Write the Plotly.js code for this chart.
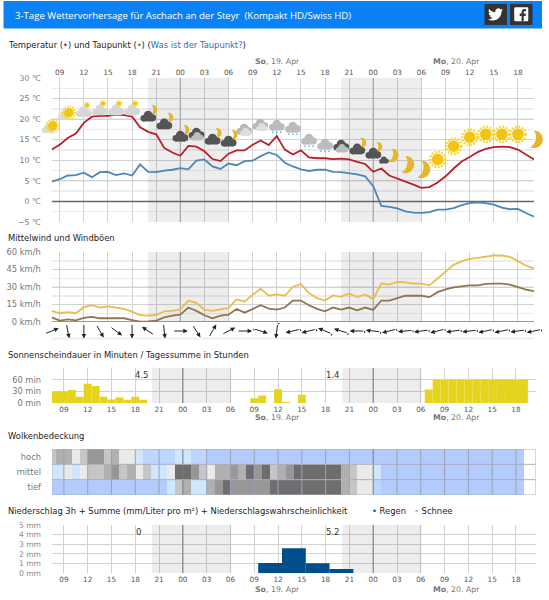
<!DOCTYPE html>
<html><head><meta charset="utf-8">
<script src="https://cdn.plot.ly/plotly-3.0.1.min.js"></script>
<style>html,body{margin:0;padding:0;background:#fff}#c{width:549px;height:600px}</style>
</head><body><div id="c"></div>
<script>
// ---- data: t = hours relative to Sunday 19 Apr 00:00 ----
const hoursT = [-16,-15,-14,-13,-12,-11,-10,-9,-8,-7,-6,-5,-4,-3,-2,-1,0,1,2,3,4,5,6,7,8,9,10,11,12,13,14,15,16,17,18,19,20,21,22,23,24,25,26,27,28,29,30,31,32,33,34,35,36,37,38,39,40,41,42,43,44];
const temperature = [12.6,13.8,15.4,16.5,19.1,20.6,20.8,20.8,21.1,21.0,20.6,18,16.9,16.3,13,11.9,11.1,13.5,13.3,12.2,10.3,9.8,11.6,12.4,12.4,13.8,14.8,13.7,15.9,12.6,11.4,12.4,10.7,10.5,10.5,10.3,10.4,10.2,9.6,9.1,7.2,8.0,6.3,5.6,4.9,4.1,3.3,3.5,4.6,6.1,8,9.7,10.8,12,12.8,13.2,13.3,13.2,12.6,11.4,10.2];
const dewpoint = [4.8,5.4,6.3,6.4,7.0,5.9,7.1,7.2,6.4,6.8,6.3,9.0,7.2,7.1,7.5,7.7,8.1,7.8,9.9,10.2,8.5,7.9,9.2,8.8,9.8,9.9,11,11.9,11.3,9.4,8.5,7.8,7.4,7.7,7.7,7.2,7.1,6.9,6.6,6.1,3.7,-1.1,-1.3,-1.7,-2.4,-2.7,-2.8,-2.6,-2,-2,-1.6,-0.9,-0.4,-0.2,-0.4,-0.8,-1.5,-1.9,-1.8,-2.8,-3.7];
const gusts = [9.5,7.5,8.4,7.5,12.7,14.4,12.4,13.3,12.4,11.2,8.9,5.8,5.5,6,9.2,9.5,10.7,18.4,16.4,10.4,9.5,11,12.1,19.3,17.6,23.3,28.5,22.5,23.6,22.5,30,32.6,24.8,20.5,18.4,22.8,21.6,24.5,21.3,23.6,19.6,33.1,32,34.3,34,32.9,32.9,31.4,37.2,43.8,49,51.9,54.2,55,55.9,57,57,55.9,52.2,48.4,45.8];
const meanWind = [4,1.2,2.3,1.4,3.5,4.3,3.2,3.2,3.2,3.2,1.7,0.3,0.6,1.2,4,5.5,6.3,12.4,9.5,5.8,3.2,5.5,6.3,11.2,8,11,14.4,11.5,10.7,12.4,18.4,18.4,14.4,11.2,9.2,12.4,10.7,12.4,10,12.4,10.4,18.4,18.4,20.5,22.5,22.5,22.5,21.3,25.6,28,29.7,30.5,31.4,31.4,32.6,32.9,32.9,32,30,27.7,26.5];
const windDir = [68,169,180,150,126,180,304,174,90,148,30,63,90,107,187,256,256,293,287,270,276,256,264,262,256,262,263,258,258,262,258];
const sunMinutes = [30,30,34,17,50,44,17,10,15,9,17,9,0,0,0,0,0,0,0,0,0,0,0,0,0,13,20,0,36,3,0,22,0,0,0,0,0,0,0,0,0,0,0,0,0,0,0,35,60,60,60,60,60,60,60,60,60,60,60,60];
const sunT = hoursT.slice(0,60);
const precipT = [11,14,17,20];
const precipMm = [1.07,2.6,1.03,0.45];
const cloudRows = ['tief','mittel','hoch'];
const cloudEdges = [-16.5].concat(hoursT.slice(0,60));
const cloudHigh = [4,5,5,3,4,6,6,4,5,3,3,2,1,1,1,1,2,2,1,1,0,0,0,0,0,0,0,0,0,0,0,0,0,0,0,0,0,0,0,0,0,0,0,0,0,0,0,0,0,0,0,0,0,0,0,0,0,0,0,0];
const cloudMid = [2,2,3,2,3,4,4,5,6,4,5,3,4,2,2,3,7,7,6,4,3,5,5,6,5,7,6,7,4,5,6,7,7,7,7,7,7,5,4,3,3,2,0,0,0,0,0,0,0,0,0,0,0,0,0,0,0,0,0,0];
const cloudLow = [0,0,0,0,0,0,0,0,0,0,0,0,0,0,0,2,4,5,2,2,5,6,7,6,6,6,6,6,7,7,7,7,7,7,7,7,7,5,4,3,3,1,0,0,0,0,0,0,0,0,0,0,0,0,0,0,0,0,0,0];
const cloudPalette = ['#b3cbfd','#bcd6ff','#cfe6ff','#eaeaea','#c6c6c6','#b0b0b0','#979797','#6e6e6e'];
const iconKind = ['suncloud','suncloud','cloudsun','cloudsun','cloudsun','cloudsun','darkmoon','darkmoon','darkmoon','darkdouble','darkmoon','darkmoon','graydouble','graydouble','graysnow','graysnow','graysnow','graysnow','darkdouble','darkmoon','darkmoon','moonsmall','moon','moon','sun','sun','sun','sun','sun','sun','moon'];
const iconLevel = [18,21.2,22.3,22.7,22.7,22.7,21.2,19.3,16.3,16.3,15.6,15.1,17.3,18.5,18.5,18,15.1,13.9,13.4,13.2,12.2,10.5,9,7.8,10.2,13.4,15.6,16.3,16.3,16.3,15.1];
const tickT = [-15,-12,-9,-6,-3,0,3,6,9,12,15,18,21,24,27,30,33,36,39,42];
const tickLabels = ['09','12','15','18','21','00','03','06','09','12','15','18','21','00','03','06','09','12','15','18'];
const nights = [[-4,6],[20,30]];
const midnights = [0,24];
const tempTicks = [30,25,20,15,10,5,0,-5];
const tempLabels = ['30 ℃','25 ℃','20 ℃','15 ℃','10 ℃','5 ℃','0 ℃','−5 ℃'];
const windTicks = [60,45,30,15,0];
const sunTicks = [0,30,60,90];
const sunTickLabels = ['0 min','30 min','60 min',''];
const precipTicks = [0,1,2,3,4,5];
const dayLabels = ['<b>So</b>, 19. Apr','<b>Mo</b>, 20. Apr'];
const dayPx = [277,456];

// ---- helpers ----
const W=549,H=600, X=p=>p/W, Y=p=>1-p/H;
const FONT='"DejaVu Sans",sans-serif', GRID='#d2d2d2', LBL='#777';
const L1=[51.7,534], L2=[52,535.8], T1=[78,222], TEMP=[-5,30];
const iconSvg = b => 'data:image/svg+xml;utf8,'+encodeURIComponent('<svg xmlns="http://www.w3.org/2000/svg" viewBox="0 0 40 40">'+b+'</svg>');
const cloud=(c,dx=0,dy=0,s=1)=>`<g transform="translate(${dx} ${dy}) scale(${s})" fill="${c}"><circle cx="20" cy="16" r="9"/><circle cx="11" cy="22" r="6.5"/><circle cx="29" cy="21" r="7"/><rect x="10" y="21" width="20" height="7.5"/></g>`;
const sunG=(cx,cy,r)=>`<circle cx="${cx}" cy="${cy}" r="${r}" fill="#f2c414"/><circle cx="${cx}" cy="${cy}" r="${r*1.3}" fill="none" stroke="#f8d92a" stroke-width="${r*.5}" stroke-dasharray="${r*.3} ${r*.26}"/>`;
const moonG=(t)=>`<path transform="${t}" d="M15 3A17.5 17.5 0 1 1 15 37C25 29 25 11 15 3Z" fill="#e6b52c"/>`;
const snow='<g fill="#4f93c9"><circle cx="12" cy="34" r="1.5"/><circle cx="20" cy="34" r="1.5"/><circle cx="28" cy="34" r="1.5"/></g>';
const icons={
 sun:iconSvg(sunG(20,20,11.5)),
 moon:iconSvg(moonG('rotate(12 20 20) translate(1 0)')),
 moonsmall:iconSvg(moonG('rotate(12 20 20) translate(8 -3) scale(.8)')+cloud('#555',-4,12,.65)),
 suncloud:iconSvg(cloud('#dcdcdc',-4,8,.8)+sunG(22,17,9.5)),
 cloudsun:iconSvg(sunG(26,11,4.5)+cloud('#d6d6d6',0,6)),
 darkmoon:iconSvg(`<path transform="translate(18 0) scale(.55)" d="M15 3A17.5 17.5 0 1 1 15 37C25 29 25 11 15 3Z" fill="#e6b52c"/>`+cloud('#555',0,6)),
 darkdouble:iconSvg(cloud('#555',0,0)+cloud('#bdbdbd',6,10,.78)),
 graydouble:iconSvg(cloud('#b9b9b9',-1,0)+cloud('#dedede',7,10,.75)),
 graysnow:iconSvg(cloud('#bcbcbc',0,2)+snow)
};

const axBase={showline:false,zeroline:false,fixedrange:true};
function xAx(dom,range,extra){return Object.assign({},axBase,{domain:[X(dom[0]),X(dom[1])],range,tickmode:'array',tickvals:tickT,ticktext:tickLabels,showgrid:true,gridcolor:GRID,gridwidth:1,ticks:'',tickfont:{family:FONT,size:7.3,color:'#555'}},extra);}
function yAx(top,bot,range,vals,text,extra){return Object.assign({},axBase,{domain:[Y(bot),Y(top)],range,tickmode:'array',tickvals:vals,ticktext:text,showgrid:true,gridcolor:GRID,gridwidth:1,ticks:'',ticklabelstandoff:10,tickfont:{family:FONT,size:8.3,color:LBL}},extra);}

const panels=[
 {xr:'x',yr:'y',y:TEMP,dark:'#a8a8a8'},
 {xr:'x2',yr:'y2',y:[0,60],dark:'#a8a8a8'},
 {xr:'x3',yr:'y3',y:[0,90],dark:'#888',shift:0.1},
 {xr:'x5',yr:'y5',y:[0,5],dark:'#888',shift:0.1}
];
const layout={width:W,height:H,margin:{l:0,r:0,t:0,b:0,pad:0},paper_bgcolor:'#fff',plot_bgcolor:'rgba(0,0,0,0)',showlegend:false,font:{family:FONT},
 xaxis:xAx(L1,[-16,44],{side:'top',anchor:'y',ticklabelstandoff:1}),
 yaxis:yAx(T1[0],T1[1],panels[0].y,tempTicks,tempLabels,{anchor:'x',minor:{dtick:2.5,showgrid:true,gridcolor:'#ededed',gridwidth:1.5},tickfont:{family:FONT,size:7.8,color:LBL}}),
 xaxis2:xAx(L1,[-16,44],{anchor:'y2',showticklabels:false}),
 yaxis2:yAx(252,322,panels[1].y,windTicks,windTicks.map(v=>v+' km/h'),{anchor:'x2',minor:{dtick:7.5,showgrid:true,gridcolor:'#ededed',gridwidth:1.5}}),
 xaxis3:xAx(L2,[-16.5,44.5],{anchor:'y3'}),
 yaxis3:yAx(368,403.3,panels[2].y,sunTicks,sunTickLabels,{anchor:'x3'}),
 xaxis4:xAx(L2,[-16.5,44.5],{anchor:'y4',showticklabels:false,showgrid:false}),
 yaxis4:yAx(449,495,[-0.5,2.5],[0,1,2],cloudRows,{anchor:'x4',showgrid:false}),
 xaxis5:xAx(L2,[-16.5,44.5],{anchor:'y5'}),
 yaxis5:yAx(525,573.3,panels[3].y,precipTicks,precipTicks.map(v=>v+' mm'),{anchor:'x5',tickfont:{family:FONT,size:7.6,color:'#888'}}),
 shapes:[],annotations:[],images:[]
};
const S=layout.shapes,A=layout.annotations,I=layout.images;

// header
S.push({type:'rect',xref:'paper',yref:'paper',x0:X(3.5),x1:X(542),y0:Y(28.5),y1:Y(1),fillcolor:'#0a82f5',line:{width:0},layer:'below'});
S.push({type:'rect',xref:'paper',yref:'paper',x0:X(484.5),x1:X(507),y0:Y(25),y1:Y(4),fillcolor:'#333',line:{width:0},layer:'below'});
S.push({type:'rect',xref:'paper',yref:'paper',x0:X(510),x1:X(532.5),y0:Y(25),y1:Y(4),fillcolor:'#333',line:{width:0},layer:'below'});
I.push({source:iconSvg('<g transform="scale(1.667)" fill="#fff"><path d="M23.953 4.57a10 10 0 01-2.825.775 4.958 4.958 0 002.163-2.723c-.951.555-2.005.959-3.127 1.184a4.92 4.92 0 00-8.384 4.482C7.69 8.095 4.067 6.13 1.64 3.162a4.822 4.822 0 00-.666 2.475c0 1.71.87 3.213 2.188 4.096a4.904 4.904 0 01-2.228-.616v.06a4.923 4.923 0 003.946 4.827 4.996 4.996 0 01-2.212.085 4.936 4.936 0 004.604 3.417 9.867 9.867 0 01-6.102 2.105c-.39 0-.779-.023-1.17-.067a13.995 13.995 0 007.557 2.209c9.053 0 13.998-7.496 13.998-13.985 0-.21 0-.42-.015-.63A9.935 9.935 0 0024 4.59z"/></g>'),xref:'paper',yref:'paper',x:X(488),y:Y(7),sizex:X(15),sizey:15/H,xanchor:'left',yanchor:'top',layer:'above'});
I.push({source:iconSvg('<rect x="3" y="3" width="34" height="34" rx="3" fill="#fff"/><path d="M26 37V24h4.6l.8-5.6H26v-3c0-1.6.6-2.7 2.8-2.7h2.8V7.6C31 7.5 29.5 7.4 27.8 7.4c-4 0-7 2.5-7 7v4h-4.6V24h4.6v13z" fill="#333"/>'),xref:'paper',yref:'paper',x:X(513),y:Y(6),sizex:X(16.5),sizey:16.5/H,xanchor:'left',yanchor:'top',layer:'above'});
function txt(x,y,text,o={}){A.push(Object.assign({xref:'paper',yref:'paper',x:X(x),y:Y(y),text,showarrow:false,xanchor:'left',yanchor:'middle',borderpad:0,font:{family:FONT,size:9,color:'#333'}},o));}
txt(14,15,'3-Tage Wettervorhersage für Aschach an der Steyr&nbsp; (Kompakt HD/Swiss HD)',{font:{family:'"Open Sans",sans-serif',size:9.6,color:'#fff'}});
const titleFont={family:FONT,size:8.4,color:'#222'};
txt(7,44.5,'Temperatur (<span style="color:#b5202a">•</span>) und Taupunkt (<span style="color:#3f7fb5">•</span>) (<span style="color:#2a6fb5">Was ist der Taupunkt?</span>)',{font:titleFont});
txt(7,238,'Mittelwind und Windböen',{font:titleFont});
txt(7,355,'Sonnenscheindauer in Minuten / Tagessumme in Stunden',{font:titleFont});
txt(7,436,'Wolkenbedeckung',{font:titleFont});
txt(7,510.7,'Niederschlag 3h + Summe (mm/Liter pro m²) + Niederschlagswahrscheinlichkeit',{font:titleFont});
txt(371,510.7,'<span style="color:#004f8b">•</span> Regen',{font:titleFont});
txt(413,510.7,'<span style="color:#8fc0e6">•</span> Schnee',{font:titleFont});
// day labels
const dayFont={family:FONT,size:7.8,color:'#777'};
dayPx.forEach((px,i)=>{
 [61.7,417.7,589].forEach(y=>txt(px,y,dayLabels[i],{xanchor:'center',font:dayFont}));
});
// daily totals
const sunTotals=['4.5','1.4'], rainTotals=['0','5.2'], totalPx=[142,333];
sunTotals.forEach((s,i)=>txt(totalPx[i],375.3,s,{xanchor:'center',font:{family:FONT,size:8.5,color:'#333'}}));
rainTotals.forEach((s,i)=>txt(totalPx[i]-(i?0:3.5),531.7,s,{xanchor:'center',font:{family:FONT,size:8.5,color:'#333'}}));
// night bands and midnight lines for the four time panels
panels.forEach(p=>{
 const sh=p.shift||0;
 nights.forEach(n=>S.push({type:'rect',xref:p.xr,yref:p.yr,x0:n[0]+sh,x1:n[1]+sh,y0:p.y[0],y1:p.y[1],fillcolor:'rgba(0,0,0,.07)',line:{width:0},layer:'between'}));
 midnights.forEach(m=>S.push({type:'line',xref:p.xr,yref:p.yr,x0:m,x1:m,y0:p.y[0],y1:p.y[1],line:{color:p.dark,width:1.2},layer:'between'}));
});
// baselines
S.push({type:'line',xref:'x',yref:'y',x0:-16,x1:44,y0:0,y1:0,line:{color:'#666',width:1.4},layer:'between'});
S.push({type:'line',xref:'x2',yref:'y2',x0:-16,x1:44,y0:0,y1:0,line:{color:'#777',width:1.4},layer:'between'});
S.push({type:'line',xref:'x2',yref:'paper',x0:-16,x1:44,y0:Y(338.5),y1:Y(338.5),line:{color:'#eee',width:2},layer:'below'});
// cloud grid on top of the cells
tickT.forEach(t=>S.push({type:'line',xref:'x4',yref:'y4',x0:t,x1:t,y0:-0.5,y1:2.5,line:{color:midnights.includes(t)?'#777':'#9aa3b5',width:1},layer:'above'}));
[-0.5,0.5,1.5,2.5].forEach(v=>S.push({type:'line',xref:'x4',yref:'y4',x0:-16.5,x1:44.5,y0:v,y1:v,line:{color:'#aab0bc',width:1},layer:'above'}));
[-16.5,44.5].forEach(t=>S.push({type:'line',xref:'x4',yref:'y4',x0:t,x1:t,y0:-0.5,y1:2.5,line:{color:'#bbb',width:1},layer:'above'}));
// wind arrows
const arrowLen=15, arrowY=331;
windDir.forEach((deg,i)=>{
 const a=deg*Math.PI/180, sx=Math.sin(a), sy=-Math.cos(a), t=hoursT[0]+2*i;
 A.push({xref:'x2',yref:'paper',x:t,y:Y(arrowY),text:'',showarrow:true,arrowhead:2,arrowsize:0.9,arrowwidth:1,arrowcolor:'#222',axref:'pixel',ayref:'pixel',ax:-arrowLen*sx,ay:-arrowLen*sy,xshift:arrowLen/2*sx,yshift:-arrowLen/2*sy,standoff:0});
 if(i>=13){ // short speed barb at the tail
  const bx=-sy*3.5, by=sx*3.5;
  A.push({xref:'x2',yref:'paper',x:t,y:Y(arrowY),text:'',showarrow:true,arrowhead:0,arrowwidth:1,arrowcolor:'#222',axref:'pixel',ayref:'pixel',ax:-bx,ay:Math.abs(by),xshift:-arrowLen/2*sx,yshift:arrowLen/2*sy,standoff:0});
 }
});
// weather icons (paper coordinates so the end icons are not clipped by the subplot)
const iconX=t=>X(L1[0]+(t-(-16))*(L1[1]-L1[0])/60), iconY=v=>Y(T1[0]+(TEMP[1]-v)*(T1[1]-T1[0])/(TEMP[1]-TEMP[0]));
iconKind.forEach((k,i)=>I.push({source:icons[k],xref:'paper',yref:'paper',x:iconX(hoursT[0]+2*i),y:iconY(iconLevel[i]),sizex:20/W,sizey:20/H,xanchor:'center',yanchor:'middle',sizing:'contain',layer:'above'}));

const colorscale=cloudPalette.map((c,i)=>[[i/8,c],[(i+1)/8,c]]).flat();
const line=(x,y,c,xa,ya)=>({type:'scatter',mode:'lines',x,y,xaxis:xa,yaxis:ya,line:{color:c,width:1.8},hoverinfo:'skip'});
const data=[
 line(hoursT,temperature,'#b5202a','x','y'),
 line(hoursT,dewpoint,'#4f86b3','x','y'),
 line(hoursT,gusts,'#e8bd4c','x2','y2'),
 line(hoursT,meanWind,'#8f7650','x2','y2'),
 {type:'bar',x:sunT,y:sunMinutes,width:1,xaxis:'x3',yaxis:'y3',marker:{color:'#e6d31d',line:{width:0}},hoverinfo:'skip'},
 {type:'heatmap',x:cloudEdges,y:cloudRows,z:[cloudLow,cloudMid,cloudHigh],xaxis:'x4',yaxis:'y4',zmin:-0.5,zmax:7.5,colorscale,showscale:false,hoverinfo:'skip'},
 {type:'bar',x:precipT,y:precipMm,width:3,xaxis:'x5',yaxis:'y5',marker:{color:'#004f8b',line:{width:0}},hoverinfo:'skip'}
];
Plotly.newPlot('c',data,layout,{staticPlot:true,displayModeBar:false});
</script></body></html>
